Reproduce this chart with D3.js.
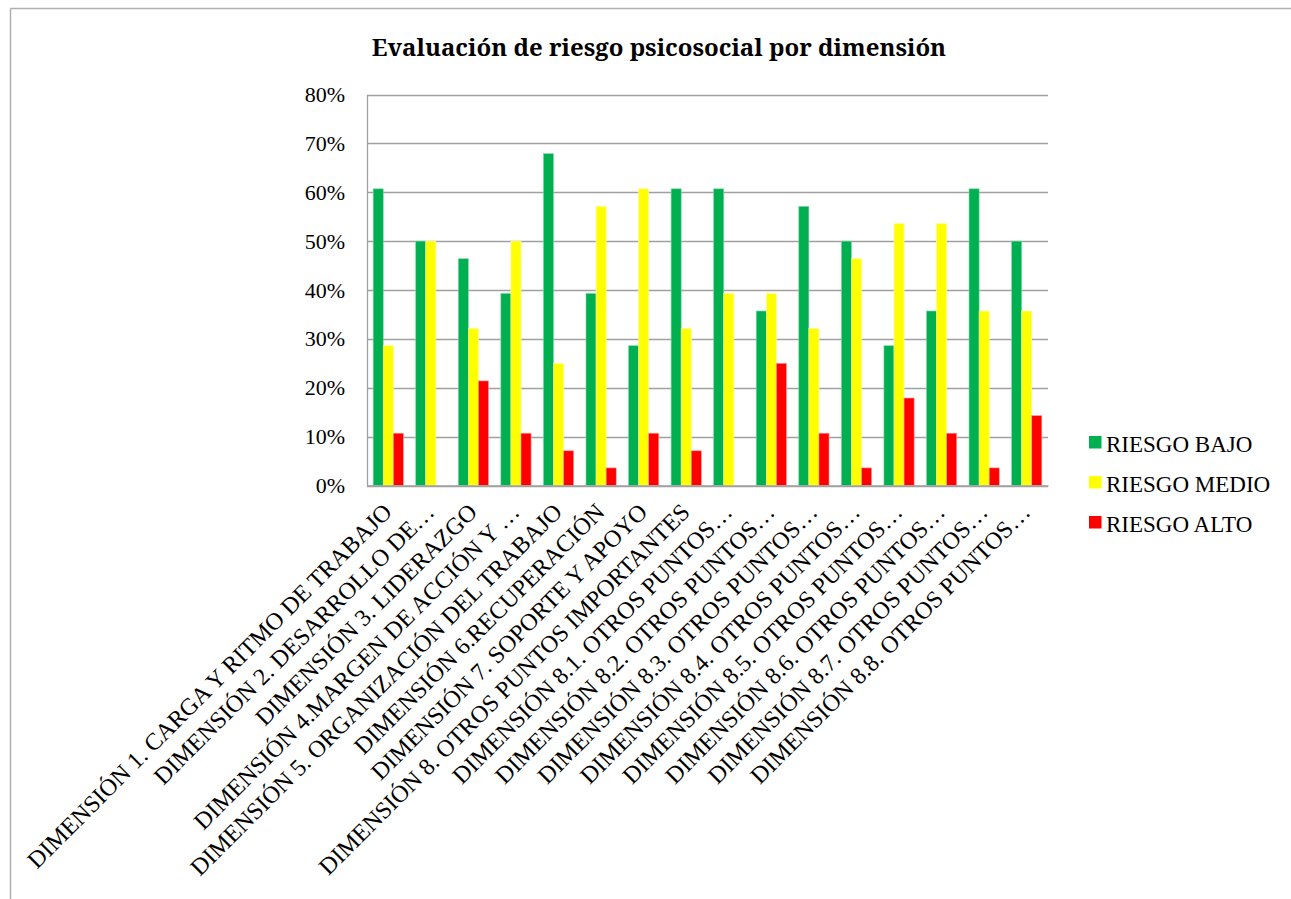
<!DOCTYPE html>
<html>
<head>
<meta charset="utf-8">
<script src="https://cdn.jsdelivr.net/npm/d3@7"></script>
<style>
  html, body { margin: 0; padding: 0; background: #fff; }
  svg { display: block; }
</style>
</head>
<body>
<svg id="chart" width="1291" height="899"></svg>
<script>
// Dimension labels as shown on the category axis
const categories = [
  "DIMENSIÓN 1. CARGA Y RITMO DE TRABAJO",
  "DIMENSIÓN 2. DESARROLLO DE…",
  "DIMENSIÓN 3. LIDERAZGO",
  "DIMENSIÓN 4.MARGEN DE ACCIÓN Y …",
  "DIMENSIÓN 5. ORGANIZACIÓN DEL TRABAJO",
  "DIMENSIÓN 6.RECUPERACIÓN",
  "DIMENSIÓN 7. SOPORTE Y APOYO",
  "DIMENSIÓN 8. OTROS PUNTOS IMPORTANTES",
  "DIMENSIÓN 8.1. OTROS PUNTOS…",
  "DIMENSIÓN 8.2. OTROS PUNTOS…",
  "DIMENSIÓN 8.3. OTROS PUNTOS…",
  "DIMENSIÓN 8.4. OTROS PUNTOS…",
  "DIMENSIÓN 8.5. OTROS PUNTOS…",
  "DIMENSIÓN 8.6. OTROS PUNTOS…",
  "DIMENSIÓN 8.7. OTROS PUNTOS…",
  "DIMENSIÓN 8.8. OTROS PUNTOS…"
];

const seriesNames = ["RIESGO BAJO", "RIESGO MEDIO", "RIESGO ALTO"];

// Share of respondents per risk level (fractions)
const riesgoBajo  = [0.607, 0.500, 0.464, 0.393, 0.679, 0.393, 0.286, 0.607, 0.607, 0.357, 0.571, 0.500, 0.286, 0.357, 0.607, 0.500];
const riesgoMedio = [0.286, 0.500, 0.321, 0.500, 0.250, 0.571, 0.607, 0.321, 0.393, 0.393, 0.321, 0.464, 0.536, 0.536, 0.357, 0.357];
const riesgoAlto  = [0.107, 0.000, 0.214, 0.107, 0.071, 0.036, 0.107, 0.071, 0.000, 0.250, 0.107, 0.036, 0.179, 0.107, 0.036, 0.143];

const yTicks = [0, 0.1, 0.2, 0.3, 0.4, 0.5, 0.6, 0.7, 0.8];

const colors = ["#00B050", "#FFFF00", "#FF0000"];
const edgeColors = ["#7fd7a7", "#ffff99", "#ff9999"];

const seriesValues = [riesgoBajo, riesgoMedio, riesgoAlto];

const FONT = "'Liberation Serif', serif";
const FONT_BOLD = "'Noto Serif'";

const svg = d3.select("#chart");

// Outer chart frame (top and left edges visible)
svg.append("line").attr("x1", 10.5).attr("x2", 1291).attr("y1", 8.5).attr("y2", 8.5)
  .attr("stroke", "#b0b0b0").attr("stroke-width", 1.5);
svg.append("line").attr("x1", 10.5).attr("x2", 10.5).attr("y1", 8.5).attr("y2", 899)
  .attr("stroke", "#b0b0b0").attr("stroke-width", 1.5);

const plot = { left: 367, right: 1048, top: 94.5, bottom: 485.5 };

const x0 = d3.scaleBand()
  .domain(d3.range(categories.length))
  .range([plot.left, plot.right])
  .paddingInner(0.29)
  .paddingOuter(0.145);

const x1 = d3.scaleBand()
  .domain(d3.range(seriesNames.length))
  .range([0, x0.bandwidth()]);

const y = d3.scaleLinear().domain([0, 0.8]).range([plot.bottom, plot.top]);

// Title
svg.append("text")
  .attr("x", 659).attr("y", 56)
  .attr("text-anchor", "middle")
  .attr("font-family", FONT_BOLD)
  .attr("font-size", "24px")
  .attr("font-weight", "bold")
  .attr("fill", "#000")
  .text("Evaluación de riesgo psicosocial por dimensión");

// Gridlines
svg.append("g").selectAll("line")
  .data(yTicks)
  .join("line")
  .attr("x1", plot.left).attr("x2", plot.right)
  .attr("y1", d => Math.round(y(d)) + 0.5).attr("y2", d => Math.round(y(d)) + 0.5)
  .attr("stroke", "#a0a0a0").attr("stroke-width", 1.3);

// Value axis
const yAxis = d3.axisLeft(y)
  .tickValues(yTicks)
  .tickFormat(d3.format(".0%"))
  .tickSize(0)
  .tickPadding(22);

const yg = svg.append("g")
  .attr("transform", `translate(${plot.left},0)`)
  .call(yAxis)
  .attr("font-family", FONT);
yg.select(".domain").attr("stroke", "#a0a0a0").attr("stroke-width", 1.3);
yg.selectAll("text")
  .attr("font-family", FONT)
  .attr("font-size", "22px")
  .attr("fill", "#000");

// Bars
const groups = svg.append("g").selectAll("g")
  .data(categories.map((c, i) => i))
  .join("g")
  .attr("transform", i => `translate(${x0(i)},0)`);

groups.selectAll("rect")
  .data(i => seriesValues.map((vals, s) => ({ s, v: vals[i] })))
  .join("rect")
  .attr("x", d => x1(d.s))
  .attr("width", x1.bandwidth())
  .attr("y", d => y(d.v))
  .attr("height", d => y(0) - y(d.v))
  .attr("fill", d => colors[d.s])
  .attr("stroke", d => d.v > 0 ? edgeColors[d.s] : "none")
  .attr("stroke-width", 0.6);

// Category axis with labels rotated 45°
const xAxis = d3.axisBottom(x0).tickSize(0).tickFormat(i => categories[i]);
const xg = svg.append("g")
  .attr("transform", `translate(0,${plot.bottom})`)
  .call(xAxis)
  .attr("font-family", FONT);
xg.select(".domain").attr("stroke", "#a0a0a0").attr("stroke-width", 1.3);
xg.selectAll(".tick text")
  .attr("font-family", FONT)
  .attr("font-size", "24px")
  .attr("fill", "#000")
  .attr("text-anchor", "end")
  .attr("dy", null)
  .attr("y", 0)
  .attr("transform", "translate(5,28) rotate(-45)");

// Legend
const legend = svg.append("g").attr("transform", "translate(1089,436)");
const li = legend.selectAll("g")
  .data(seriesNames)
  .join("g")
  .attr("transform", (d, i) => `translate(0,${i * 40})`);
li.append("rect")
  .attr("width", 12.5).attr("height", 12.5)
  .attr("fill", (d, i) => colors[i]);
li.append("text")
  .attr("x", 17).attr("y", 15.5)
  .attr("font-family", FONT)
  .attr("font-size", "23px")
  .attr("fill", "#000")
  .text(d => d);
</script>
</body>
</html>
